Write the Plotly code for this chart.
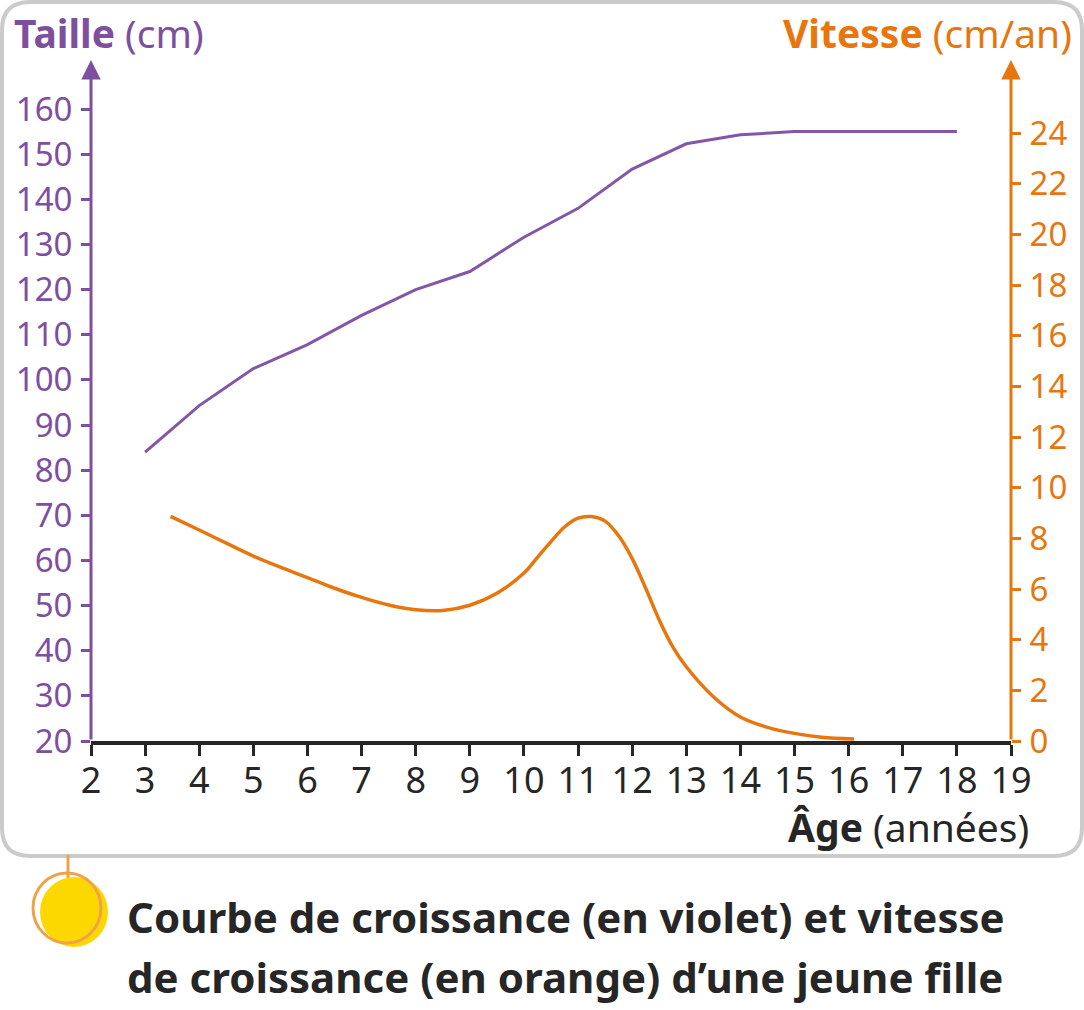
import plotly.graph_objects as go

# ---------------- data ----------------
age_taille = [3, 4, 5, 6, 7, 8, 9, 10, 11, 12, 13, 14, 15, 16, 17, 18]
taille_cm = [84, 94.3, 102.5, 107.8, 114.3, 120, 124, 131.6, 138, 146.7, 152.3, 154.3, 155, 155, 155, 155]

age_vitesse = [3.47, 4, 4.5, 5, 5.5, 6, 6.5, 7, 7.5, 8, 8.5, 9, 9.5, 10, 10.25, 10.5, 10.75,
               11, 11.25, 11.5, 11.75, 12, 12.25, 12.5, 12.75, 13, 13.5, 14, 14.5, 15, 15.5, 16.1]
vitesse_cm_an = [8.87, 8.33, 7.81, 7.3, 6.86, 6.45, 6.03, 5.67, 5.37, 5.18, 5.15, 5.36, 5.83, 6.63, 7.25, 7.87, 8.45,
                 8.8, 8.86, 8.68, 8.1, 7.2, 6.03, 4.78, 3.72, 2.93, 1.75, 0.95, 0.54, 0.30, 0.15, 0.08]

x_ticks = list(range(2, 20))
taille_ticks = list(range(20, 161, 10))
vitesse_ticks = list(range(0, 25, 2))

# ---------------- style ----------------
PURPLE_TXT = "#7f4f9f"
PURPLE_LINE = "#8457a6"
ORANGE = "#e8760e"
DARK = "#262626"
FONT = "Noto Sans"

W_FIG, H_FIG = 1084, 1010
L, R, T, B = 91, 1011, 60, 741
PW, PH = R - L, B - T
LEFT_PX_PER_UNIT = 4.514
RIGHT_PX_PER_UNIT = 25.33
left_top = 20 + PH / LEFT_PX_PER_UNIT
right_top = PH / RIGHT_PX_PER_UNIT


def px(xp):
    return (xp - L) / PW


def py(yp):
    return (B - yp) / PH


fig = go.Figure()
fig.add_trace(go.Scatter(x=age_taille, y=taille_cm, mode="lines",
                         line=dict(color=PURPLE_LINE, width=3), yaxis="y", hoverinfo="skip"))
fig.add_trace(go.Scatter(x=age_vitesse, y=vitesse_cm_an, mode="lines",
                         line=dict(color=ORANGE, width=3.5, shape="spline", smoothing=1.0),
                         yaxis="y2", hoverinfo="skip"))

TICK_SIZE = 36
Y_TICK_SIZE = 33
fig.update_layout(
    width=W_FIG, height=H_FIG,
    margin=dict(l=L, r=W_FIG - R, t=T, b=H_FIG - B, pad=0),
    paper_bgcolor="white", plot_bgcolor="white",
    showlegend=False,
    font=dict(family=FONT, color=DARK, size=TICK_SIZE),
    xaxis=dict(range=[2, 19], tickvals=x_ticks, ticktext=[str(v) for v in x_ticks],
               showgrid=False, zeroline=False, showline=True, linecolor=DARK, linewidth=3.5,
               ticks="outside", ticklen=11, tickwidth=3, tickcolor=DARK, ticklabelstandoff=-6,
               tickfont=dict(family=FONT, size=TICK_SIZE, color=DARK)),
    yaxis=dict(range=[20, left_top], tickvals=taille_ticks, showgrid=False, zeroline=False,
               showline=False, ticks="outside", ticklen=9, tickwidth=3, tickcolor=PURPLE_TXT,
               ticklabelstandoff=2,
               tickfont=dict(family=FONT, size=Y_TICK_SIZE, color=PURPLE_TXT)),
    yaxis2=dict(range=[0, right_top], tickvals=vitesse_ticks, overlaying="y", side="right",
                anchor="x", showgrid=False, zeroline=False, showline=False,
                ticks="outside", ticklen=9, tickwidth=3, tickcolor=ORANGE, ticklabelstandoff=2,
                tickfont=dict(family=FONT, size=Y_TICK_SIZE, color=ORANGE)),
)

# axis arrows
fig.add_annotation(x=2, y=left_top, ax=2, ay=20, xref="x", yref="y", axref="x", ayref="y",
                   text="", showarrow=True, arrowhead=2, arrowsize=1.3, arrowwidth=3,
                   arrowcolor=PURPLE_TXT, standoff=0, startstandoff=0)
fig.add_annotation(x=19, y=right_top, ax=19, ay=0, xref="x", yref="y2", axref="x", ayref="y2",
                   text="", showarrow=True, arrowhead=2, arrowsize=1.3, arrowwidth=3,
                   arrowcolor=ORANGE, standoff=0, startstandoff=0)

# titles
fig.add_annotation(x=px(12), y=py(33), xref="paper", yref="paper", xanchor="left", yanchor="middle",
                   text="<b>Taille</b> (cm)", showarrow=False,
                   font=dict(family=FONT, size=39, color=PURPLE_TXT))
fig.add_annotation(x=px(1074), y=py(33), xref="paper", yref="paper", xanchor="right", yanchor="middle",
                   text="<b>Vitesse</b> (cm/an)", showarrow=False,
                   font=dict(family=FONT, size=39, color=ORANGE))
fig.add_annotation(x=px(1031), y=py(826), xref="paper", yref="paper", xanchor="right", yanchor="middle",
                   text="<b>Âge</b> (années)", showarrow=False,
                   font=dict(family=FONT, size=39, color=DARK))

# caption
fig.add_annotation(x=px(125), y=py(916), xref="paper", yref="paper", xanchor="left", yanchor="middle",
                   text="<b>Courbe de croissance (en violet) et vitesse</b>", showarrow=False,
                   font=dict(family=FONT, size=42, color=DARK))
fig.add_annotation(x=px(125), y=py(976), xref="paper", yref="paper", xanchor="left", yanchor="middle",
                   text="<b>de croissance (en orange) d’une jeune fille</b>", showarrow=False,
                   font=dict(family=FONT, size=42, color=DARK))

# rounded border
x0b, x1b, y0b, y1b, rad = 2, 1082, 2, 856, 28
pts = [
    ("M", x0b + rad, y0b),
    ("L", x1b - rad, y0b),
    ("Q", x1b, y0b, x1b, y0b + rad),
    ("L", x1b, y1b - rad),
    ("Q", x1b, y1b, x1b - rad, y1b),
    ("L", x0b + rad, y1b),
    ("Q", x0b, y1b, x0b, y1b - rad),
    ("L", x0b, y0b + rad),
    ("Q", x0b, y0b, x0b + rad, y0b),
]
path = ""
for p in pts:
    cmd = p[0]
    coords = p[1:]
    segs = []
    for i in range(0, len(coords), 2):
        segs.append(f"{px(coords[i]):.5f},{py(coords[i + 1]):.5f}")
    path += cmd + " ".join(segs) + " "
path += "Z"
fig.add_shape(type="path", path=path, xref="paper", yref="paper",
              line=dict(color="#cbcbcb", width=4), fillcolor="rgba(0,0,0,0)", layer="below")

# decorative pin
fig.add_shape(type="line", x0=px(68), x1=px(68), y0=py(855), y1=py(878), xref="paper", yref="paper",
              line=dict(color="#f0a24a", width=3))
fig.add_shape(type="circle", x0=px(74 - 34), x1=px(74 + 34), y0=py(912 + 35), y1=py(912 - 35),
              xref="paper", yref="paper", fillcolor="#fdd800", line=dict(width=0))
fig.add_shape(type="circle", x0=px(67 - 34), x1=px(67 + 34), y0=py(908 + 35), y1=py(908 - 35),
              xref="paper", yref="paper", fillcolor="rgba(0,0,0,0)", line=dict(color="#f0a24a", width=3))

fig.write_html("out.html", config={"displayModeBar": False},
               post_script="document.body.style.margin='0';document.body.style.overflow='hidden';")
